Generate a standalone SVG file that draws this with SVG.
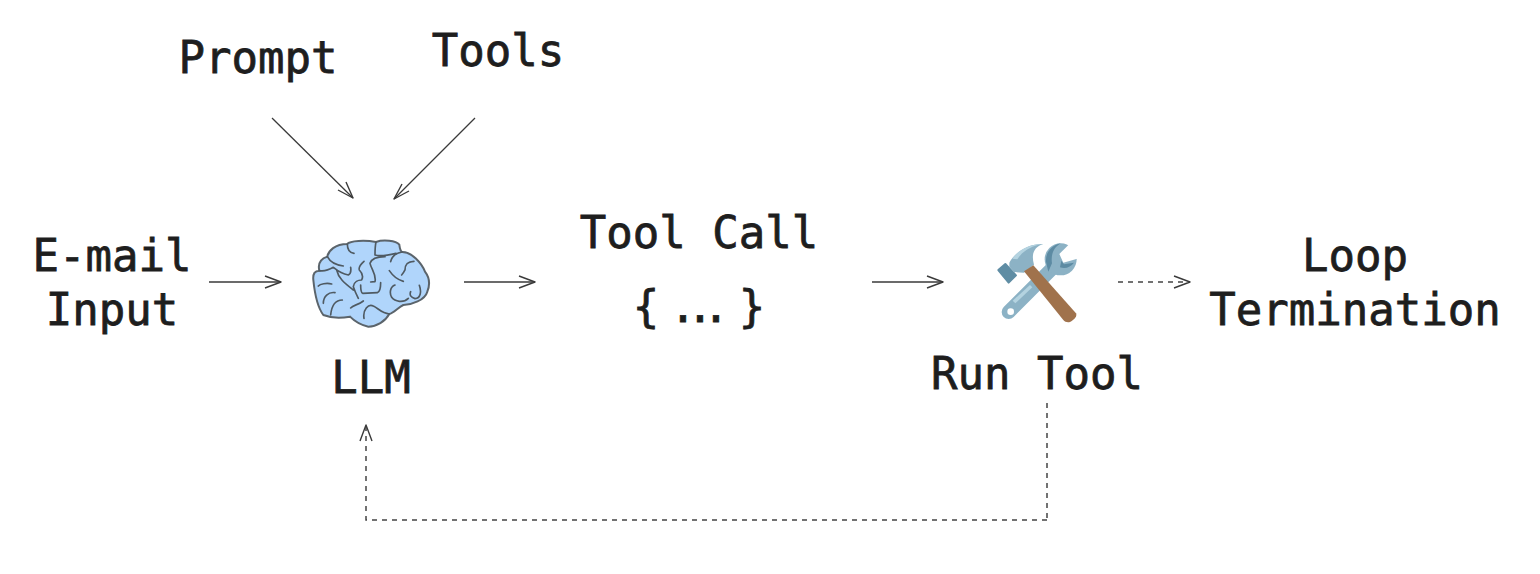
<svg xmlns="http://www.w3.org/2000/svg" width="1540" height="574" viewBox="0 0 1540 574">
<style>
text{font-family:"DejaVu Sans Mono","Liberation Mono",monospace;font-size:44px;fill:#1e1e1e;stroke:#1e1e1e;stroke-width:.8;text-anchor:middle}
.c{fill:none;stroke:#3a3a3a;stroke-width:1.3}
.d{stroke-dasharray:5 5;stroke:#444;stroke-width:1.5}
.h{fill:none;stroke:#3a3a3a;stroke-width:1.4;stroke-linejoin:round}
.b{fill:none;stroke:#4f5a62;stroke-width:5;stroke-linecap:round;stroke-linejoin:round}
</style>
<rect width="1540" height="574" fill="#fff"/>
<g id="connectors">
<path class="c" d="M272 118L353 198"/><path class="h" d="M338 190L353 198L346 182"/>
<path class="c" d="M475 118L394 199"/><path class="h" d="M409 191L394 199L402 184"/>
<path class="c" d="M209 282H281"/><path class="h" d="M265 276L281 282L265 288"/>
<path class="c" d="M464 282H535"/><path class="h" d="M519 276L535 282L519 288"/>
<path class="c" d="M872 282H943"/><path class="h" d="M927 276L943 282L927 288"/>
<path class="c d" d="M1118 282H1190"/><path class="h" d="M1174 276L1190 282L1174 288"/>
<path class="c d" d="M1047 403V523"/><path class="c d" d="M1047 520H366V426"/><path class="h" d="M360 441L366 425L372 441"/>
</g>
<g id="prompt"><text x="258" y="73">Prompt</text></g>
<g id="tools"><text x="498" y="66">Tools</text></g>
<g id="email"><text x="112" y="271">E-mail</text><text x="112" y="325">Input</text></g>
<g id="llm">
<g transform="translate(290 220) scale(.3333)">
<path d="M70 180C68 160 75 152 88 152C84 135 88 118 112 110C115 92 135 72 172 72C180 62 225 60 258 66C280 58 318 62 328 74C330 88 330 92 336 96C365 95 395 130 405 155C418 172 420 195 412 215C405 240 365 255 340 255C325 262 310 280 298 282C285 305 260 320 235 320C210 315 195 305 180 290C150 295 125 295 100 285C85 265 75 230 70 180Z" fill="#b0d5fb" stroke="#5b646b" stroke-width="6"/>
<path class="b" d="M112 110C120 125 135 135 160 138M172 72C172 85 175 98 192 100M88 152C105 155 125 145 130 142C140 150 150 160 175 165C185 160 183 150 182 142M140 150C145 175 165 190 190 210M222 124C215 130 205 140 208 150C218 160 220 170 215 180C205 180 192 185 190 200C195 215 200 225 205 235M258 66C255 80 255 95 255 105C270 110 285 108 318 100M285 110C260 110 245 115 240 130C245 150 260 165 255 185L242 186M212 195C212 205 212 218 218 220L262 218C270 215 272 200 272 188M336 96C315 100 305 110 302 125M372 124C350 125 345 135 345 150C340 160 335 165 335 165M298 152C310 170 325 180 340 184M315 195C300 200 298 220 305 232C315 245 340 250 355 235M388 196C395 215 392 235 375 236C362 232 358 225 362 215M125 192C110 188 90 192 85 198M135 218C115 215 100 230 100 250M157 240C135 240 125 255 122 285M182 264C190 255 205 255 220 243M222 295C218 270 235 250 250 258C265 265 275 280 298 282"/>
</g>
<text x="371" y="393">LLM</text>
</g>
<g id="toolcall"><text x="699" y="248">Tool Call</text><text x="646 664 683 700 716 734 752" y="322">{ ... }</text></g>
<g id="runtool">
<g transform="translate(980 230) scale(.3333)">
<path d="M86 246L222 110" fill="none" stroke="#8cb2c5" stroke-width="42" stroke-linecap="round"/>
<circle cx="242" cy="88" r="48" fill="#8cb2c5"/>
<path d="M198 95C196 68 215 45 242 40C222 52 212 72 216 100L205 125Z" fill="#5d8ba3"/>
<path d="M272 38L238 72L250 98L300 84L300 38Z" fill="#fff"/>
<path d="M244 92L252 103L282 98C272 110 258 118 240 112Z" fill="#5d8ba3"/>
<circle cx="92" cy="245" r="10" fill="#fff"/>
<path d="M98 212L150 165L157 172L106 220Z" fill="#b4d3e0"/>
<path d="M55 120L76 102L108 136L86 158Z" fill="#5f8da4" stroke="#5f8da4" stroke-width="6" stroke-linejoin="round"/>
<path d="M88 98C108 62 150 40 190 42C165 50 152 68 162 104L132 128L102 126L88 110Z" fill="#8cb2c5"/>
<path d="M97 86C115 60 150 42 188 42C158 46 128 62 112 88Z" fill="#b4d3e0"/>
<path d="M132 124L160 106L288 250C292 258 285 268 270 276C262 278 255 276 250 270Z" fill="#a0724c"/>
</g>
<text x="1037" y="389">Run Tool</text>
</g>
<g id="termination"><text x="1355" y="271">Loop</text><text x="1355" y="325">Termination</text></g>
</svg>
